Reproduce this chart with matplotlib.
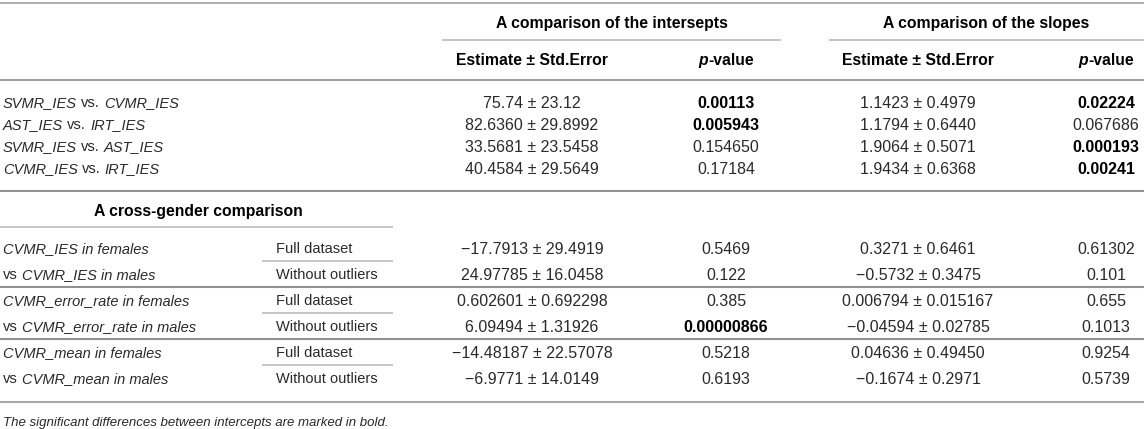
import matplotlib
matplotlib.use("Agg")
import matplotlib.pyplot as plt

# ---------------- data ----------------
group_headers = ["A comparison of the intersepts", "A comparison of the slopes"]
sub_headers = ["Estimate ± Std.Error", "*p*-value", "Estimate ± Std.Error", "*p*-value"]
section_header = "A cross-gender comparison"

comparisons = [
    "*SVMR_IES* vs. *CVMR_IES*",
    "*AST_IES* vs. *IRT_IES*",
    "*SVMR_IES* vs. *AST_IES*",
    "*CVMR_IES* vs. *IRT_IES*",
    "*CVMR_IES in females*",
    "vs *CVMR_IES in males*",
    "*CVMR_error_rate in females*",
    "vs *CVMR_error_rate in males*",
    "*CVMR_mean in females*",
    "vs *CVMR_mean in males*",
]
datasets = ["", "", "", "",
            "Full dataset", "Without outliers",
            "Full dataset", "Without outliers",
            "Full dataset", "Without outliers"]
intercept_est = ["75.74 ± 23.12", "82.6360 ± 29.8992", "33.5681 ± 23.5458", "40.4584 ± 29.5649",
                 "−17.7913 ± 29.4919", "24.97785 ± 16.0458",
                 "0.602601 ± 0.692298", "6.09494 ± 1.31926",
                 "−14.48187 ± 22.57078", "−6.9771 ± 14.0149"]
intercept_p = ["0.00113", "0.005943", "0.154650", "0.17184",
               "0.5469", "0.122", "0.385", "0.00000866", "0.5218", "0.6193"]
intercept_sig = [True, True, False, False, False, False, False, True, False, False]
slope_est = ["1.1423 ± 0.4979", "1.1794 ± 0.6440", "1.9064 ± 0.5071", "1.9434 ± 0.6368",
             "0.3271 ± 0.6461", "−0.5732 ± 0.3475",
             "0.006794 ± 0.015167", "−0.04594 ± 0.02785",
             "0.04636 ± 0.49450", "−0.1674 ± 0.2971"]
slope_p = ["0.02224", "0.067686", "0.000193", "0.00241",
           "0.61302", "0.101", "0.655", "0.1013", "0.9254", "0.5739"]
slope_sig = [True, False, True, True, False, False, False, False, False, False]
footnote = "The significant differences between intercepts are marked in bold."

# ---------------- layout ----------------
W, H = 1144, 429
FS_TXT = 10.5     # labels
FS_NUM = 11.5     # numbers
FS_HDR = 11.3     # bold headers
FS_FOOT = 9.5
TXT = "#2a2a2a"
BLK = "#000000"
plt.rcParams["font.family"] = ["Liberation Sans", "DejaVu Sans"]

fig = plt.figure(figsize=(W / 100, H / 100), dpi=100)
ax = fig.add_axes([0, 0, 1, 1])
ax.set_xlim(0, W)
ax.set_ylim(H, 0)
ax.axis("off")
renderer = fig.canvas.get_renderer()

_space_cache = {}


def space_width(size, style, weight):
    key = (size, style, weight)
    if key not in _space_cache:
        t1 = ax.text(0, 0, "a a", fontsize=size, fontstyle=style, fontweight=weight)
        t2 = ax.text(0, 0, "aa", fontsize=size, fontstyle=style, fontweight=weight)
        w = t1.get_window_extent(renderer).width - t2.get_window_extent(renderer).width
        t1.remove(); t2.remove()
        _space_cache[key] = w
    return _space_cache[key]


def rich(x, y, markup, size, ha="left", bold=False, color=TXT, italic_all=False):
    """y is the visual centre of capitals; all runs share one baseline."""
    weight = "bold" if bold else "normal"
    base = round(y + 0.716 * size * 100 / 72 / 2.0)
    parts = markup.split("*")
    runs = []
    for i, p in enumerate(parts):
        if p == "":
            continue
        ital = (i % 2 == 1) or italic_all
        runs.append((p, "italic" if ital else "normal"))
    items = []
    for s, style in runs:
        lead = len(s) - len(s.lstrip(" "))
        trail = len(s) - len(s.rstrip(" "))
        core = s.strip(" ")
        sw = space_width(size, style, weight)
        if lead:
            items.append((None, lead * sw))
        if core:
            t = ax.text(0, base, core, fontsize=size, fontstyle=style, fontweight=weight,
                        color=color, va="baseline", ha="left")
            items.append((t, t.get_window_extent(renderer).width))
        if trail:
            items.append((None, trail * sw))
    total = sum(w for _, w in items)
    cur = x if ha == "left" else x - total / 2.0
    for t, w in items:
        if t is not None:
            t.set_x(cur)
        cur += w


def hline(x0, x1, y, color="#9a9a9a", lw=1.5):
    ax.plot([x0, x1], [y, y], color=color, lw=lw, solid_capstyle="butt")


# column positions
X_LABEL = 3
X_DATASET = 276
col_centers = [532, 726, 918, 1106]
group_spans = [(442, 781), (829, W)]

# rows
row_y = [102, 124, 146, 168, 248, 274, 300, 326, 352, 378]

# rules
hline(0, W, 3, color="#a8a8a8", lw=1.3)
for (a, b) in group_spans:
    hline(a, b, 40, color="#b5b5b5", lw=1.1)
hline(0, W, 80, color="#a0a0a0", lw=1.5)
hline(0, W, 191, color="#909090", lw=1.5)
hline(0, 393, 227, color="#b5b5b5", lw=1.1)
hline(262, 393, 261, color="#b5b5b5", lw=1.1)
hline(0, W, 287, color="#909090", lw=1.5)
hline(262, 393, 313, color="#b5b5b5", lw=1.1)
hline(0, W, 339, color="#909090", lw=1.5)
hline(262, 393, 365, color="#b5b5b5", lw=1.1)
hline(0, W, 402, color="#a8a8a8", lw=1.5)

# headers
for (a, b), g in zip(group_spans, group_headers):
    rich((a + b) / 2.0, 22, g, FS_HDR, ha="center", bold=True, color=BLK)
for cx, s in zip(col_centers, sub_headers):
    rich(cx, 59, s, FS_HDR, ha="center", bold=True, color=BLK)
rich(198, 210, section_header, FS_HDR, ha="center", bold=True, color=BLK)

# body
for i, y in enumerate(row_y):
    rich(X_LABEL, y, comparisons[i], FS_TXT)
    if datasets[i]:
        rich(X_DATASET, y, datasets[i], FS_TXT)
    rich(col_centers[0], y, intercept_est[i], FS_NUM, ha="center")
    rich(col_centers[1], y, intercept_p[i], FS_NUM, ha="center", bold=intercept_sig[i],
         color=BLK if intercept_sig[i] else TXT)
    rich(col_centers[2], y, slope_est[i], FS_NUM, ha="center")
    rich(col_centers[3], y, slope_p[i], FS_NUM, ha="center", bold=slope_sig[i],
         color=BLK if slope_sig[i] else TXT)

rich(X_LABEL, 421, footnote, FS_FOOT, italic_all=True)

fig.savefig("out.png", dpi=100)
